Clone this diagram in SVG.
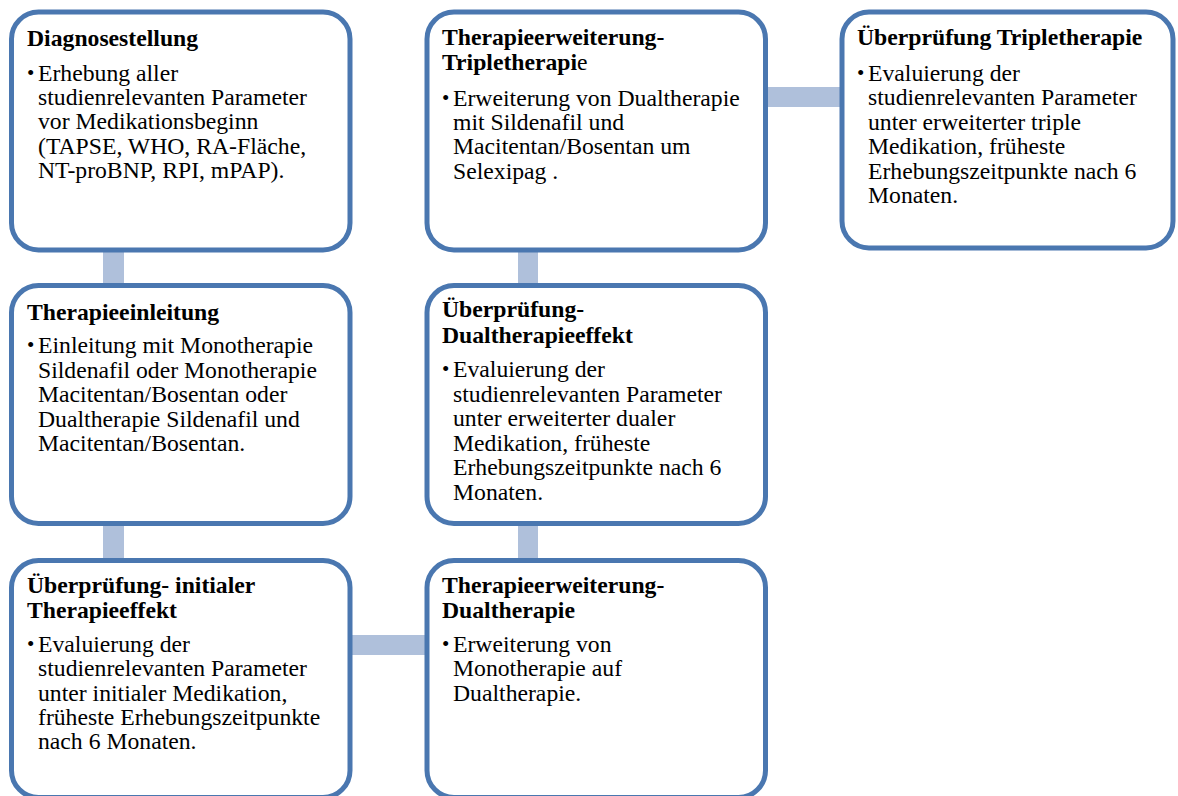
<svg xmlns="http://www.w3.org/2000/svg" width="1178" height="796" viewBox="0 0 1178 796">
<style>
.box{fill:#ffffff;stroke:#4A77B0;stroke-width:5}
.con{fill:#AFC0DB}
text{font-family:'Liberation Serif',serif;font-size:23.7px;fill:#000}
.t{font-weight:bold}
.n{font-weight:normal}
.b{font-size:21px}
</style>
<rect width="1178" height="796" fill="#ffffff"/>
<g id="connectors">
<rect class="con" x="103" y="250" width="21" height="36"/>
<rect class="con" x="103" y="523" width="21" height="38"/>
<rect class="con" x="350" y="635" width="77" height="20"/>
<rect class="con" x="518" y="523" width="20" height="38"/>
<rect class="con" x="518" y="250" width="20" height="36"/>
<rect class="con" x="765" y="87" width="77" height="20"/>
</g>
<g id="n1">
<rect class="box" x="11.5" y="12" width="338.5" height="238" rx="27"/>
<text class="t" x="27" y="46">Diagnosestellung</text>
<text class="b" x="27" y="80">•</text>
<text x="38" y="81">Erhebung aller<tspan x="38" dy="24.2">studienrelevanten Parameter</tspan><tspan x="38" dy="24.2">vor Medikationsbeginn</tspan><tspan x="38" dy="24.2">(TAPSE, WHO, RA-Fläche,</tspan><tspan x="38" dy="24.2">NT-proBNP, RPI, mPAP).</tspan></text>
</g>
<g id="n2">
<rect class="box" x="11.5" y="285.5" width="338.5" height="238" rx="27"/>
<text class="t" x="27" y="320">Therapieeinleitung</text>
<text class="b" x="27" y="352">•</text>
<text x="38" y="353">Einleitung mit Monotherapie<tspan x="38" dy="24.5">Sildenafil oder Monotherapie</tspan><tspan x="38" dy="24.5">Macitentan/Bosentan oder</tspan><tspan x="38" dy="24.5">Dualtherapie Sildenafil und</tspan><tspan x="38" dy="24.5">Macitentan/Bosentan.</tspan></text>
</g>
<g id="n3">
<rect class="box" x="11.5" y="560.5" width="338.5" height="237" rx="27"/>
<text class="t" x="27" y="593">Überprüfung- initialer<tspan x="27" dy="25">Therapieeffekt</tspan></text>
<text class="b" x="27" y="651">•</text>
<text x="38" y="652">Evaluierung der<tspan x="38" dy="24.3">studienrelevanten Parameter</tspan><tspan x="38" dy="24.3">unter initialer Medikation,</tspan><tspan x="38" dy="24.3">früheste Erhebungszeitpunkte</tspan><tspan x="38" dy="24.3">nach 6 Monaten.</tspan></text>
</g>
<g id="n4">
<rect class="box" x="427" y="12" width="338.5" height="238" rx="27"/>
<text class="t" x="442" y="45">Therapieerweiterung-<tspan x="442" dy="25">Tripletherapi</tspan><tspan class="n">e</tspan></text>
<text class="b" x="442" y="105">•</text>
<text x="453" y="106">Erweiterung von Dualtherapie<tspan x="453" dy="24.2">mit Sildenafil und</tspan><tspan x="453" dy="24.2">Macitentan/Bosentan um</tspan><tspan x="453" dy="24.2">Selexipag .</tspan></text>
</g>
<g id="n5">
<rect class="box" x="427" y="285.5" width="338.5" height="238" rx="27"/>
<text class="t" x="442" y="317">Überprüfung-<tspan x="442" dy="26">Dualtherapieeffekt</tspan></text>
<text class="b" x="442" y="376">•</text>
<text x="453" y="377">Evaluierung der<tspan x="453" dy="24.6">studienrelevanten Parameter</tspan><tspan x="453" dy="24.6">unter erweiterter dualer</tspan><tspan x="453" dy="24.6">Medikation, früheste</tspan><tspan x="453" dy="24.6">Erhebungszeitpunkte nach 6</tspan><tspan x="453" dy="24.6">Monaten.</tspan></text>
</g>
<g id="n6">
<rect class="box" x="427" y="560.5" width="338.5" height="237" rx="27"/>
<text class="t" x="442" y="593">Therapieerweiterung-<tspan x="442" dy="25">Dualtherapie</tspan></text>
<text class="b" x="442" y="651">•</text>
<text x="453" y="652">Erweiterung von<tspan x="453" dy="24.3">Monotherapie auf</tspan><tspan x="453" dy="24.3">Dualtherapie.</tspan></text>
</g>
<g id="n7">
<rect class="box" x="842" y="12" width="331" height="236" rx="27"/>
<text class="t" x="857" y="45">Überprüfung Tripletherapie</text>
<text class="b" x="857" y="80">•</text>
<text x="868" y="81">Evaluierung der<tspan x="868" dy="24.4">studienrelevanten Parameter</tspan><tspan x="868" dy="24.4">unter erweiterter triple</tspan><tspan x="868" dy="24.4">Medikation, früheste</tspan><tspan x="868" dy="24.4">Erhebungszeitpunkte nach 6</tspan><tspan x="868" dy="24.4">Monaten.</tspan></text>
</g>
</svg>
